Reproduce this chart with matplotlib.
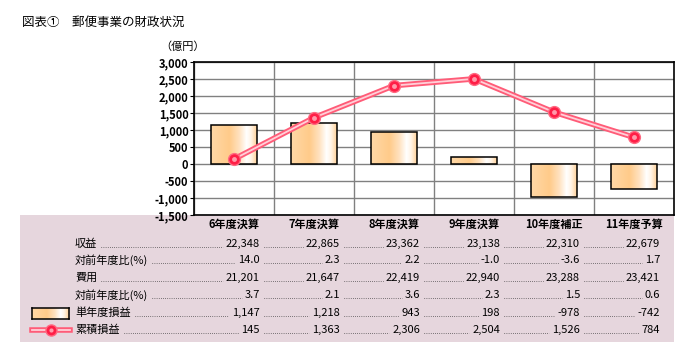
import numpy as np
import matplotlib
matplotlib.use('Agg')
import matplotlib.pyplot as plt
from matplotlib.colors import LinearSegmentedColormap
from matplotlib.patches import Rectangle

plt.rcParams['font.family'] = ['Noto Sans CJK JP', 'DejaVu Sans']

categories = ['6年度決算', '7年度決算', '8年度決算', '9年度決算', '10年度補正', '11年度予算']
single_profit = [1147, 1218, 943, 198, -978, -742]
cumulative = [145, 1363, 2306, 2504, 1526, 784]

row_labels = ['収益', '対前年度比(%)', '費用', '対前年度比(%)', '単年度損益', '累積損益']
row_values = [
    ['22,348', '22,865', '23,362', '23,138', '22,310', '22,679'],
    ['14.0', '2.3', '2.2', '-1.0', '-3.6', '1.7'],
    ['21,201', '21,647', '22,419', '22,940', '23,288', '23,421'],
    ['3.7', '2.1', '3.6', '2.3', '1.5', '0.6'],
    ['1,147', '1,218', '943', '198', '-978', '-742'],
    ['145', '1,363', '2,306', '2,504', '1,526', '784'],
]
yticks = [-1500, -1000, -500, 0, 500, 1000, 1500, 2000, 2500, 3000]

W, H = 696, 362
fig = plt.figure(figsize=(W / 100, H / 100), dpi=100)

# background layer in pixel coords
bg = fig.add_axes([0, 0, 1, 1], zorder=0)
bg.set_xlim(0, W)
bg.set_ylim(H, 0)
bg.axis('off')
bg.add_patch(Rectangle((20, 215), 654, 127, facecolor='#E6D6DD', edgecolor='none'))

bg.text(22, 22, '図表①　郵便事業の財政状況', fontsize=9, va='center', ha='left')
bg.text(160, 47, '（億円）', fontsize=8, va='center', ha='left')

# chart axes
ax_l, ax_r, ax_t, ax_b = 194, 674, 62, 215
ax = fig.add_axes([ax_l / W, 1 - ax_b / H, (ax_r - ax_l) / W, (ax_b - ax_t) / H], zorder=2)
ax.set_facecolor('white')
x = np.arange(len(categories))
ax.set_yticks(yticks)
ax.set_yticklabels([f'{v:,}' for v in yticks], fontsize=8, fontweight='bold')
ax.set_xticks(x - 0.5)
ax.set_xticklabels([])
ax.tick_params(axis='x', length=0)
ax.tick_params(axis='y', length=3, pad=1)
ax.grid(True, color='#808080', lw=1)
ax.set_axisbelow(True)
for s in ax.spines.values():
    s.set_color('black')
    s.set_linewidth(1.2)

grad = LinearSegmentedColormap.from_list('bar', [
    (0.0, '#FFD8A6'), (0.4, '#FFCB8A'), (0.62, '#FFE2C0'),
    (0.78, '#FFFFFF'), (0.88, '#FFF4E6'), (1.0, '#FFD39C')])
gimg = np.linspace(0, 1, 64).reshape(1, -1)
bw = 0.57
for xi, v in zip(x, single_profit):
    y0, y1 = min(0, v), max(0, v)
    im = ax.imshow(gimg, cmap=grad, aspect='auto', extent=(xi - bw / 2, xi + bw / 2, y0, y1),
                   zorder=3, interpolation='bilinear')
    r = Rectangle((xi - bw / 2, y0), bw, y1 - y0, facecolor='none', edgecolor='black', lw=1.1, zorder=4)
    ax.add_patch(r)
    im.set_clip_path(r)
ax.set_xlim(-0.5, len(categories) - 0.5)
ax.set_ylim(-1500, 3000)

ax.plot(x, cumulative, color='#FF5C78', lw=4, zorder=5, solid_capstyle='round')
ax.plot(x, cumulative, color='#FFD0D8', lw=1.3, zorder=6)
ax.plot(x, cumulative, 'o', ms=8.5, mfc='#FF1E46', mec='#FF6A82', mew=1, zorder=7)
ax.plot(x, cumulative, 'o', ms=3.5, mfc='#FF9AAA', mec='none', zorder=8)

# table
col_w = 80
centers = [ax_l + col_w * (i + 0.5) for i in range(len(categories))]
rights = [ax_l + col_w * (i + 1) - 14 for i in range(len(categories))]
for cx, c in zip(centers, categories):
    bg.text(cx, 224, c, fontsize=8, fontweight='bold', ha='center', va='center')

row_y = [244, 260, 278, 295, 313, 330]
label_x = 75
fig.canvas.draw()
rend = fig.canvas.get_renderer()
inv = bg.transData.inverted()


def px_extent(t):
    bb = t.get_window_extent(renderer=rend)
    (x0, _), (x1, _) = inv.transform([[bb.x0, bb.y0], [bb.x1, bb.y1]])
    return x0, x1


for ry, lab, vals in zip(row_y, row_labels, row_values):
    lt = bg.text(label_x, ry, lab, fontsize=8, ha='left', va='center')
    prev_end = px_extent(lt)[1] + 4
    for rx, v in zip(rights, vals):
        vt = bg.text(rx, ry, v, fontsize=8, ha='right', va='center')
        vstart = px_extent(vt)[0] - 3
        bg.plot([prev_end, vstart], [ry + 3, ry + 3], color='#333333', lw=0.7,
                linestyle=(0, (0.6, 1.6)))
        prev_end = rx + 4

# legend glyphs
lg = bg.inset_axes([32, 308, 37, 11], transform=bg.transData)
lg.imshow(gimg, cmap=grad, aspect='auto', interpolation='bilinear')
lg.set_xticks([])
lg.set_yticks([])
for s in lg.spines.values():
    s.set_color('black')
    s.set_linewidth(1.1)
bg.plot([32, 70], [330, 330], color='#FF5C78', lw=4)
bg.plot([32, 70], [330, 330], color='#FFD0D8', lw=1.3)
bg.plot([51], [330], 'o', ms=8, mfc='#FF1E46', mec='#FF6A82', mew=1)
bg.plot([51], [330], 'o', ms=3, mfc='#FF9AAA', mec='none')
bg.set_xlim(0, W)
bg.set_ylim(H, 0)

fig.savefig('out.png', dpi=100)
